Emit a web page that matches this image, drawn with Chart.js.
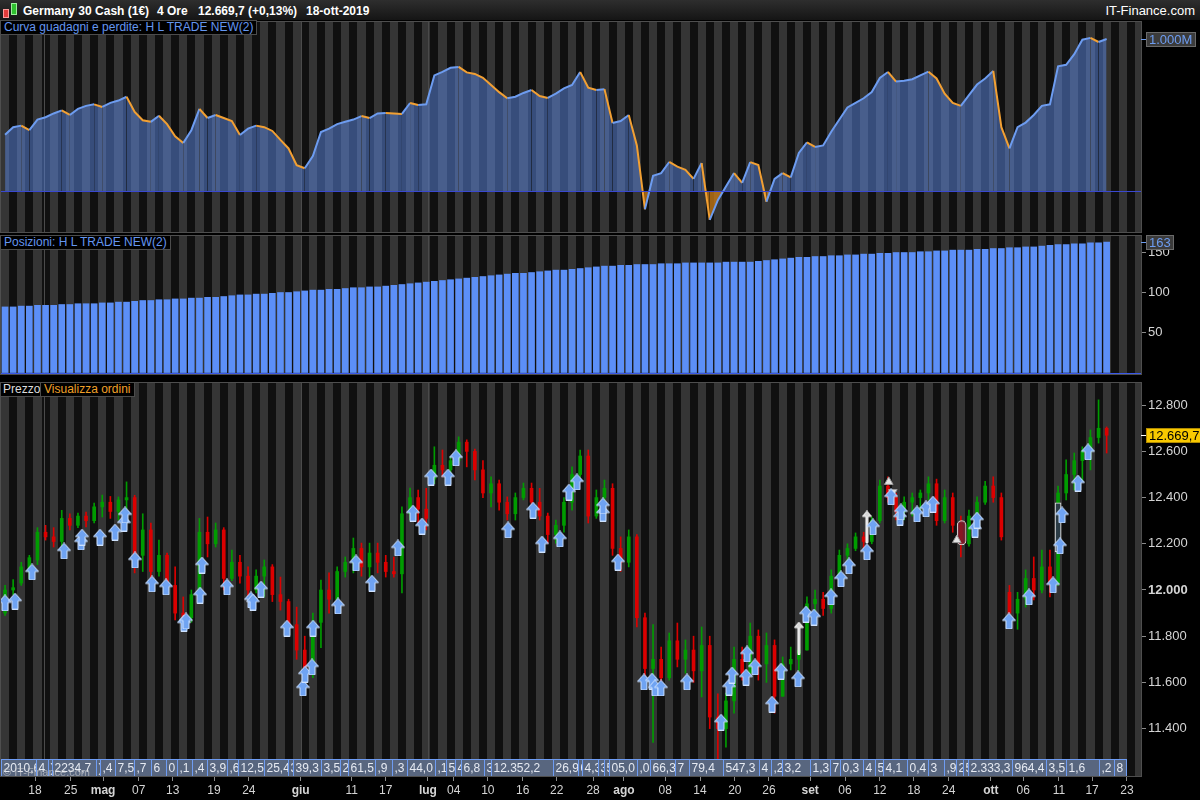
<!DOCTYPE html>
<html>
<head>
<meta charset="utf-8">
<title>Germany 30 Cash - H L TRADE NEW(2)</title>
<script src="https://cdn.jsdelivr.net/npm/chart.js@4.4.1/dist/chart.umd.min.js"></script>
<style>
  body { margin:0; width:1200px; height:800px; background:#000; overflow:hidden; position:relative;
         font-family:"Liberation Sans", Arial, sans-serif; }
  #hdr { position:absolute; left:0; top:0; width:1200px; height:20px; background:linear-gradient(#2e2e2e,#151515);
         color:#fff; font-size:12px; font-weight:bold; }
  #hdr span { position:absolute; top:4px; white-space:nowrap; }
  .ico { position:absolute; }
  .pane { position:absolute; left:0; }
  .lbl { position:absolute; height:13px; line-height:13px; font-size:12px; background:#000; border:1px solid #4c4c4c;
         padding:0 3px; z-index:5; white-space:nowrap; }
</style>
</head>
<body>
<div id="hdr">
  <div class="ico" style="left:3px;top:9px;width:4px;height:7px;background:#e23b3b;border:1px solid #ff9a9a"></div>
  <div class="ico" style="left:11px;top:3px;width:4px;height:10px;background:#2fbf2f;border:1px solid #9af09a"></div>
  <span style="left:23px">Germany 30 Cash (1€)</span>
  <span style="left:157px">4 Ore</span>
  <span style="left:198px">12.669,7 (+0,13%)</span>
  <span style="left:306px">18-ott-2019</span>
  <span style="right:5px;font-weight:normal;font-size:13px;top:3px">IT-Finance.com</span>
</div>

<div class="lbl" style="left:0;top:20px;color:#6496f0">Curva guadagni e perdite: H L TRADE NEW(2)</div>
<div class="lbl" style="left:0;top:235px;color:#6496f0">Posizioni: H L TRADE NEW(2)</div>
<div class="lbl" style="left:0;top:382px;color:#dcdcdc;padding:0 2px">Prezzo</div>
<div class="lbl" style="left:40px;top:382px;color:#f0a028">Visualizza ordini</div>

<div class="pane" style="top:21px"><canvas id="equity" width="1200" height="212"></canvas></div>
<div class="pane" style="top:235px"><canvas id="positions" width="1200" height="140"></canvas></div>
<div class="pane" style="top:382px"><canvas id="price" width="1200" height="418"></canvas></div>

<script>
// one slot = one trading day (alternating background stripe)
const X_MAX = 140.74;
const UP = '#009c00';
const DOWN = '#dc0000';
const FONT = '"Liberation Sans", Arial, sans-serif';

// daily OHLC
const opens = [11900,12000,12030,12080,12130,12250,12230,12210,12310,12280,12320,12300,12360,12380,12340,12390,12400,12150,12260,12080,
  12150,12020,11900,11880,11980,12250,12200,12260,12050,12120,12060,12000,12060,12100,11980,11950,11850,11740,11640,11860,
  12000,11960,12080,12120,12180,12100,12160,12120,12080,12070,12330,12400,12350,12480,12540,12520,12560,12640,12600,12520,
  12420,12460,12380,12330,12400,12440,12380,12320,12240,12280,12380,12500,12580,12320,12400,12440,12180,12120,12230,11880,
  11660,11700,11620,11780,11700,11740,11650,11760,11450,11400,11520,11700,11640,11800,11680,11760,11540,11680,11700,11740,
  11940,11960,11920,12060,12150,12180,12230,12210,12300,12450,12400,12340,12380,12400,12420,12460,12300,12400,12280,12200,
  12320,12380,12450,12400,11990,11900,11960,12050,12000,12100,12030,12420,12500,12560,12600,12660,12700];
const highs = [12020,12045,12120,12150,12270,12280,12270,12345,12330,12333,12337,12376,12411,12405,12403,12468,12410,12330,12290,12216,
  12160,12100,11970,12000,12310,12316,12290,12270,12173,12150,12100,12087,12130,12110,12056,11960,11926,11800,11900,12043,
  12074,12100,12143,12225,12203,12203,12203,12150,12143,12360,12441,12433,12440,12620,12606,12576,12663,12650,12610,12560,
  12490,12476,12403,12420,12463,12463,12440,12333,12303,12400,12533,12606,12606,12433,12476,12460,12230,12260,12240,11900,
  11850,11753,11814,11857,11784,11800,11840,11800,11550,11554,11753,11753,11857,11827,11814,11784,11710,11753,11760,11970,
  12000,11990,12087,12173,12200,12247,12250,12316,12476,12490,12420,12403,12420,12433,12490,12480,12433,12420,12320,12346,
  12403,12470,12490,12420,12020,11990,12087,12143,12173,12173,12450,12563,12593,12620,12693,12823,12706];
const lows = [11890,11980,12020,12050,12110,12216,12186,12190,12260,12270,12273,12290,12316,12310,12303,12330,12074,12080,12043,12060,
  11987,11870,11827,11860,11970,12143,12186,12000,12040,12030,11970,11987,11970,11950,11913,11827,11700,11580,11620,11750,
  11900,11900,12056,12074,12060,12056,12074,12056,12056,11987,12303,12290,12260,12460,12490,12490,12550,12533,12476,12400,
  12360,12346,12303,12303,12390,12330,12303,12203,12203,12250,12346,12490,12290,12310,12316,12150,12080,12100,11840,11600,
  11340,11567,11610,11667,11640,11600,11537,11400,11264,11320,11467,11610,11640,11610,11600,11467,11540,11654,11650,11740,
  11880,11890,11900,12056,12120,12170,12180,12200,12290,12380,12303,12303,12320,12346,12390,12280,12290,12250,12143,12190,
  12310,12370,12380,12216,11870,11830,11926,11957,11987,11970,12020,12390,12433,12470,12520,12636,12593];
const closes = [12000,12010,12100,12140,12250,12230,12210,12310,12280,12320,12300,12360,12380,12340,12390,12400,12150,12260,12080,12150,
  12020,11900,11880,11980,12250,12200,12260,12050,12120,12060,12000,12060,12100,11980,11950,11850,11740,11640,11860,12000,
  11960,12080,12120,12180,12100,12160,12120,12080,12070,12330,12400,12350,12310,12540,12520,12560,12640,12600,12520,12420,
  12460,12380,12330,12400,12440,12380,12320,12240,12280,12380,12500,12580,12320,12400,12440,12180,12120,12230,11880,11660,
  11700,11620,11780,11700,11740,11650,11760,11450,11400,11520,11700,11640,11800,11680,11760,11540,11680,11700,11740,11940,
  11960,11920,12060,12150,12180,12230,12210,12300,12450,12400,12340,12380,12400,12420,12460,12300,12400,12280,12200,12320,
  12380,12450,12400,12230,11900,11960,12050,12000,12100,12030,12420,12500,12560,12600,12660,12700,12670];

// equity curve (profit / loss) per slot
const equity = [370,420,430,400,470,485,510,530,500,540, 560,570,553,580,595,620,520,465,455,495,
  440,360,316,400,540,480,500,480,460,368, 410,430,420,395,336,280,170,150,230,388,
  410,440,455,470,493,480,510,513,510,507, 579,566,570,760,783,810,816,780,770,745,
  697,650,610,620,645,664,625,612,640,675, 697,783,680,664,670,447,460,500,300,-120,
  100,118,191,160,140,80,184,-190,-60,30, 118,53,190,171,-70,80,118,90,250,320,
  290,300,390,470,550,580,610,651,743,783, 720,725,735,760,785,740,640,580,560,630,
  700,740,790,420,280,420,450,500,560,570, 820,830,900,995,1007,980,1000];

// open positions per slot
const positions = [82,82,83,83,84,84,84,85,85,86,86,86,87,87,88,88,89,90,90,91,91,92,92,93,93,94,94,95,96,97,97,98,98,99,100,100,101,
  102,103,103,104,104,105,106,106,107,107,108,109,110,
  111,112,113,114,115,116,117,118,119,120,121,122,
  123,124,124,125,126,127,128,128,129,130,131,132,133,
  133,134,134,135,135,135,136,136,136,137,137,137,
  137,137,138,138,138,138,139,140,141,142,143,144,
  144,145,145,146,146,147,147,148,148,149,149,150,
  150,150,151,151,152,152,153,153,153,154,154,155,155,
  156,156,157,157,158,159,160,160,161,161,162,162,163];

// buy orders (blue arrows)
const buyX = [0.49,1.73,3.83,7.78,9.88,10.0,12.22,14.07,15.19,15.31,16.54,18.64,20.37,22.59,22.84,24.57,24.81,27.9,30.86,31.11,
  32.1,35.3,37.28,37.53,38.4,38.52,41.6,43.83,45.8,49.0,50.86,51.98,53.09,55.19,56.17,62.6,65.68,66.79,69.0,70.12,
  71.1,74.32,74.32,76.17,79.38,80.37,80.74,81.48,84.69,88.89,89.88,90.25,91.98,92.1,93.09,95.19,96.3,98.4,99.38,100.37,
  102.47,103.7,104.69,106.91,107.65,109.88,110.99,111.1,113.09,114.2,115.06,120.25,120.49,124.44,126.91,129.88,130.74,130.99,132.96,134.2];
const buyY = [11944,11952,12078,12169,12208,12229,12229,12251,12290,12325,12130,12026,12013,11857,11866,11978,12108,12013,11957,11948,
  12004,11835,11576,11636,11667,11835,11931,12117,12030,12182,12333,12277,12489,12489,12572,12260,12346,12199,12221,12424,
  12468,12333,12364,12121,11602,11606,11576,11576,11602,11428,11580,11632,11623,11723,11667,11506,11649,11615,11896,11883,
  11970,12048,12104,12165,12273,12403,12316,12338,12329,12351,12372,12264,12303,11866,11970,12022,12191,12325,12463,12598];

// other order marks (white)
const longArrowX = [98.5, 106.9];
const longArrowY = [11792, 12273];
const triX = [109.6, 110.1, 118.0];
const triY = [12468, 12424, 12216];
const triRot = [0, 180, 0];
const ovalX = [118.6];
const ovalY = [[12195, 12300]];
const boxX = [130.5];
const boxY = [[12165, 12377]];

// trade result labels along the bottom of the price panel
const tradeX = [0,4.32,5.8,6.3,11.73,12.22,14.07,16.42,18.52,20.37,21.73,23.58,25.43,27.9,29.26,32.47,35.43,36.05,39.51,41.85,
  42.84,46.17,48.27,50.12,53.58,54.94,56.05,56.79,59.63,60.49,68.15,71.23,71.73,73.7,74.44,75.06,78.52,80.12,83.21,84.94,
  89.14,93.58,95.06,96.42,99.88,102.35,103.58,106.42,107.9,108.89,111.85,114.44,116.42,117.9,118.77,119.38,124.81,129.01,131.48,135.56,137.41];
const tradeText = ['2010,6','4',')','2234,7',')',',4','7,5',',7','6','0',',1',',4','3,9',',6','12,5','25,4','3','39,3','3,5','2',
  '61,5',',9',',3','44,0',',1','5','4','6,8','3','12.352,2','26,9','0','4,3','3','5','05,0',',0','66,3','7','79,4',
  '547,3','4',',2','3,2','1,3','7','0,3','4','5','4,1','0,4','3',',9','2','5','2.333,3','964,4','3,5','1,6',',2','8'];
const tradeEnd = 138.9;

// x axis
const xTickPos = [4.2,8.6,12.6,17.0,21.2,26.3,30.6,37.0,43.3,47.5,52.7,55.9,60.1,64.4,68.6,73.1,76.9,82.0,86.3,90.6,
  94.8,99.9,104.2,108.5,112.7,117.0,122.2,126.2,130.6,134.7,139.0];
const xTickText = ['18','25','mag','07','13','19','24','giu','11','17','lug','04','10','16','22','28','ago','08','14','20',
  '26','set','06','12','18','24','ott','06','11','17','23'];
const months = ['mag','giu','lug','ago','set','ott'];
const separators = [5.31, 37.04, 52.72];

const priceTicks = [11400,11600,11800,12000,12200,12400,12600,12800];
const posTicks = [50,100,150];
const lastPrice = 12669.7;

Chart.defaults.font.family = FONT;
Chart.defaults.color = '#d4d4d4';
Chart.defaults.animation = false;

function fitY(s) { s.width = 59; s.paddingTop = 0; s.paddingBottom = 0; }
function fitX(s) { s.height = 23; s.paddingLeft = 0; s.paddingRight = 0; }
function fmt(v) { return String(v).replace(/\B(?=(\d{3})+(?!\d))/g, '.'); }

const stripes = {
  id: 'stripes',
  beforeDraw(chart) {
    const {ctx, chartArea: a, scales: {x}} = chart;
    ctx.save();
    ctx.fillStyle = '#101010';
    ctx.fillRect(a.left, a.top, a.width, a.height);
    ctx.fillStyle = '#353535';
    for (let k = 0; k < X_MAX; k += 2) {
      const x0 = Math.round(x.getPixelForValue(k));
      const x1 = Math.round(Math.min(x.getPixelForValue(k + 1), a.right));
      ctx.fillRect(x0, a.top, x1 - x0, a.height);
    }
    ctx.fillStyle = '#4a4a4a';
    separators.forEach(s => ctx.fillRect(Math.round(x.getPixelForValue(s)), a.top, 1, a.height));
    ctx.restore();
  }
};

const frame = {
  id: 'frame',
  afterDraw(chart) {
    const {ctx, chartArea: a} = chart;
    ctx.save();
    ctx.strokeStyle = '#4e4e4e';
    ctx.lineWidth = 1;
    ctx.strokeRect(a.left - 0.5, a.top + 0.5, a.width + 1, a.height - 1);
    ctx.restore();
  }
};

function tag(chart, value, text, bg, fg, border, tickCol) {
  const {ctx, scales: {y}} = chart;
  const py = Math.round(y.getPixelForValue(value));
  ctx.save();
  ctx.font = '13px ' + FONT;
  const w = Math.ceil(ctx.measureText(text).width) + 6;
  ctx.strokeStyle = tickCol;
  ctx.beginPath();
  ctx.moveTo(1141, py + 0.5);
  ctx.lineTo(1146, py + 0.5);
  ctx.stroke();
  ctx.fillStyle = bg;
  ctx.fillRect(1146, py - 7, w, 15);
  ctx.strokeStyle = border;
  ctx.strokeRect(1146.5, py - 6.5, w - 1, 14);
  ctx.fillStyle = fg;
  ctx.textBaseline = 'middle';
  ctx.fillText(text, 1149, py + 1);
  ctx.restore();
}

function hline(chart, value, color) {
  const {ctx, chartArea: a, scales: {y}} = chart;
  const py = Math.round(y.getPixelForValue(value)) + 0.5;
  ctx.save();
  ctx.strokeStyle = color;
  ctx.beginPath();
  ctx.moveTo(a.left, py);
  ctx.lineTo(a.right, py);
  ctx.stroke();
  ctx.restore();
}

function arrowImage(fill, edge, shaftLen, headW, shaftW) {
  const c = document.createElement('canvas');
  const headH = Math.round(headW / 2) + 1;
  c.width = headW + 1;
  c.height = headH + shaftLen + 1;
  const g = c.getContext('2d');
  const mid = c.width / 2;
  g.beginPath();
  g.moveTo(mid, 0.5);
  g.lineTo(headW + 0.5, headH);
  g.lineTo(mid + shaftW / 2, headH);
  g.lineTo(mid + shaftW / 2, c.height - 0.5);
  g.lineTo(mid - shaftW / 2, c.height - 0.5);
  g.lineTo(mid - shaftW / 2, headH);
  g.lineTo(0.5, headH);
  g.closePath();
  g.fillStyle = fill;
  g.fill();
  g.strokeStyle = edge;
  g.lineWidth = 1;
  g.stroke();
  return c;
}

const buyArrow = arrowImage('#6fa3f2', '#cfe3ff', 8, 13, 6);
const exitArrow = arrowImage('#d8d8d8', '#ffffff', 26, 9, 2);

const common = {
  responsive: false,
  layout: {autoPadding: false, padding: {left: 1, right: 0, top: 0, bottom: 0}},
  plugins: {legend: {display: false}, tooltip: {enabled: false}}
};

// top: equity curve
new Chart(document.getElementById('equity'), {
  type: 'line',
  data: {
    datasets: [{
      data: equity.map((v, i) => ({x: i + 0.5, y: v})),
      borderWidth: 2,
      pointRadius: 0,
      tension: 0,
      fill: {target: 'origin', above: 'rgba(88,128,212,0.55)', below: 'rgba(205,125,20,0.75)'},
      segment: {borderColor: c => c.p1.parsed.y < c.p0.parsed.y ? '#f2a033' : '#6d9cf0'}
    }]
  },
  options: {
    ...common,
    scales: {
      x: {type: 'linear', min: 0, max: X_MAX, display: false},
      y: {position: 'right', min: -276, max: 1118, grid: {drawOnChartArea: false, drawTicks: false},
          border: {display: false}, ticks: {display: false}, afterFit: fitY}
    }
  },
  plugins: [stripes, frame, {
    id: 'eqExtras',
    afterDatasetsDraw(chart) { hline(chart, 0, '#3a48d0'); },
    afterDraw(chart) { tag(chart, 1000, '1.000M', '#3b3b3b', '#6d9cf0', '#6a6a6a', '#6d9cf0'); }
  }]
});

// middle: positions
new Chart(document.getElementById('positions'), {
  type: 'bar',
  data: {
    datasets: [{
      data: positions.map((v, i) => ({x: i + 0.5, y: v})),
      backgroundColor: '#5c8ff7',
      barThickness: 6,
      borderWidth: 0
    }]
  },
  options: {
    ...common,
    scales: {
      x: {type: 'linear', min: 0, max: X_MAX, offset: false, display: false},
      y: {position: 'right', min: -3.1, max: 171.9,
          afterBuildTicks: s => { s.ticks = posTicks.map(v => ({value: v})); },
          grid: {drawOnChartArea: false, tickLength: 5, color: '#8a8a8a'},
          border: {display: false},
          ticks: {padding: 2, font: {size: 13}, color: '#d4d4d4'},
          afterFit: fitY}
    }
  },
  plugins: [stripes, frame, {
    id: 'posExtras',
    afterDatasetsDraw(chart) { hline(chart, 0, '#3a58e8'); },
    afterDraw(chart) { tag(chart, positions[positions.length - 1], '163', '#3b3b3b', '#6d9cf0', '#6a6a6a', '#6d9cf0'); }
  }]
});

// bottom: price with orders
const candleColor = c => closes[c.dataIndex] >= opens[c.dataIndex] ? UP : DOWN;

new Chart(document.getElementById('price'), {
  type: 'bar',
  data: {
    datasets: [
      {type: 'scatter', order: 0, data: buyX.map((x, i) => ({x, y: buyY[i]})), pointStyle: buyArrow, pointRadius: 8},
      {type: 'scatter', order: 0, data: longArrowX.map((x, i) => ({x, y: longArrowY[i]})), pointStyle: exitArrow, pointRadius: 8},
      {type: 'scatter', order: 0, data: triX.map((x, i) => ({x, y: triY[i]})), pointStyle: 'triangle', pointRadius: 5,
       rotation: triRot, backgroundColor: '#e4e4e4', borderColor: '#9a9a9a', borderWidth: 1},
      {order: 1, grouped: false, data: ovalX.map((x, i) => ({x, y: ovalY[i]})), barThickness: 9, borderRadius: 5,
       borderSkipped: false, backgroundColor: 'rgba(120,25,40,0.85)', borderColor: '#e0e0e0', borderWidth: 1},
      {order: 1, grouped: false, data: boxX.map((x, i) => ({x, y: boxY[i]})), barThickness: 6,
       borderSkipped: false, backgroundColor: '#2c3c46', borderColor: '#e8e8e8', borderWidth: 1},
      {order: 2, grouped: false, data: opens.map((o, i) => ({x: i + 0.5, y: [o, closes[i]]})), barThickness: 3,
       minBarLength: 1, backgroundColor: candleColor, borderWidth: 0},
      {order: 3, grouped: false, data: lows.map((l, i) => ({x: i + 0.5, y: [l, highs[i]]})), barThickness: 1,
       backgroundColor: candleColor, borderWidth: 0}
    ]
  },
  options: {
    ...common,
    scales: {
      x: {type: 'linear', min: 0, max: X_MAX, offset: false,
          afterBuildTicks: s => { s.ticks = xTickPos.map(v => ({value: v})); },
          grid: {drawOnChartArea: false, offset: false, tickLength: 4, color: '#8a8a8a'},
          border: {display: false},
          ticks: {autoSkip: false, maxRotation: 0, padding: 2, color: '#d4d4d4',
                  callback: (v, i) => xTickText[i],
                  font: c => ({size: 12, weight: months.includes(xTickText[c.index]) ? 'bold' : 'normal'})},
          afterFit: fitX},
      y: {position: 'right', min: 11190.5, max: 12900.4,
          afterBuildTicks: s => { s.ticks = priceTicks.map(v => ({value: v})); },
          grid: {drawOnChartArea: false, tickLength: 5, color: '#8a8a8a'},
          border: {display: false},
          ticks: {padding: 2, color: '#d4d4d4', callback: v => fmt(v),
                  font: c => ({size: 13, weight: c.tick && c.tick.value === 12000 ? 'bold' : 'normal'})},
          afterFit: fitY}
    }
  },
  plugins: [stripes, frame, {
    id: 'tradeStrip',
    afterDatasetsDraw(chart) {
      const {ctx, chartArea: a, scales: {x}} = chart;
      const top = a.bottom - 18;
      ctx.save();
      ctx.font = '12px ' + FONT;
      ctx.textBaseline = 'middle';
      tradeX.forEach((t, i) => {
        const x0 = Math.round(x.getPixelForValue(t)) + 0.5;
        const end = i + 1 < tradeX.length ? tradeX[i + 1] : tradeEnd;
        const x1 = Math.round(x.getPixelForValue(end)) + 0.5;
        ctx.fillStyle = '#58667f';
        ctx.fillRect(x0, top, x1 - x0, 18);
        ctx.strokeStyle = '#6e9cf2';
        ctx.strokeRect(x0, top + 0.5, x1 - x0, 17);
        ctx.save();
        ctx.beginPath();
        ctx.rect(x0 + 1, top, x1 - x0 - 1, 18);
        ctx.clip();
        ctx.fillStyle = '#e6eaf2';
        ctx.fillText(tradeText[i], x0 + 2, top + 9.5);
        ctx.restore();
      });
      ctx.font = '11px ' + FONT;
      ctx.fillStyle = 'rgba(215,215,215,0.6)';
      ctx.fillText('© IT-Finance.com', a.left + 2, a.bottom - 4);
      ctx.restore();
    },
    afterDraw(chart) {
      tag(chart, lastPrice, '12.669,7', '#f8c800', '#000000', '#b08a00', '#ffffff');
    }
  }]
});
</script>
</body>
</html>
